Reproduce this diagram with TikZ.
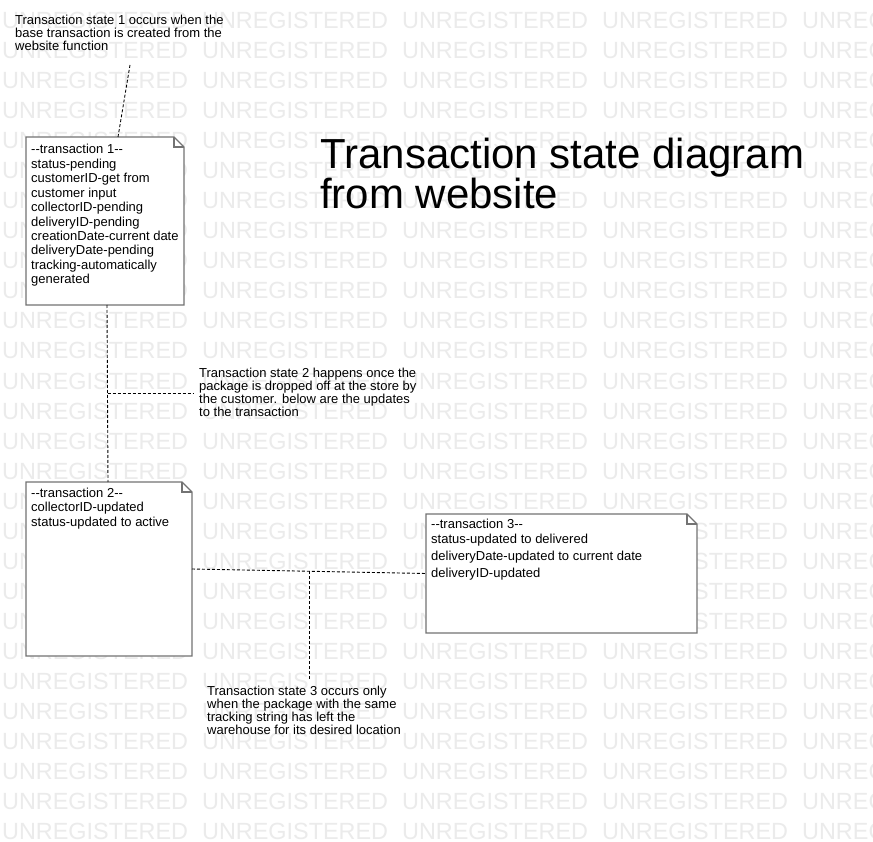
\documentclass[tikz,border=0pt]{standalone}
\usepackage{fontspec}
\newfontfamily\umlfont{Liberation Sans}
\usepackage{tikz}
\usetikzlibrary{positioning}
\usetikzlibrary{calc}
\tikzstyle{noteline} = [draw, color=black!55, line width=1.2pt, line join=miter]
\tikzstyle{dashline} = [draw, color=black, line width=0.9pt, dash pattern=on 3pt off 2pt]
\newcommand{\foldnote}[1]{%
	\path [noteline, fill=white] (#1.north west) -- ([xshift=-10pt]#1.north east) -- ([yshift=-10pt]#1.north east) -- (#1.south east) -- (#1.south west) -- cycle;
	\path [noteline] ([xshift=-10pt]#1.north east) -- ([xshift=-10pt,yshift=-10pt]#1.north east) -- ([yshift=-10pt]#1.north east);}

\begin{document}
\begin{tikzpicture}[x=1pt, y=-1pt,
	wmark/.style={anchor=base west, inner sep=0pt, text=black!8,
		font=\umlfont\fontsize{23.4}{23.4}\selectfont},
	notebox/.style={anchor=north west, inner sep=0pt, outer sep=0pt},
	notetext/.style={anchor=north west, inner sep=0pt, align=left,
		font=\umlfont\fontsize{13}{14.44}\selectfont},
	statetext/.style={anchor=north west, inner sep=0pt, align=left,
		font=\umlfont\fontsize{13}{13}\selectfont}]
	\useasboundingbox (0,0) rectangle (873,842);
	\fill [white] (0,0) rectangle (873,842);
	\clip (0,0) rectangle (873,842);
	%% watermark
	\foreach \r in {0,...,27}
		\foreach \c in {0,...,4}
			\node [wmark] (wm-\r-\c) at ({2+200*\c},{29+30*\r}) {UNREGISTERED};
	%% title
	\node [statetext, font=\umlfont\fontsize{42}{40}\selectfont] (title) at (320,138) {Transaction state diagram\\from website};
	%% notes
	\node [notebox, minimum width=158pt, minimum height=168pt] (n1) at (26,137) {};
	\foldnote{n1}
	\node [notetext] (t1) at ([shift={(5,7.3)}]n1.north west) {-{}-transaction 1-{}-\\status-pending\\customerID-get from\\customer input\\collectorID-pending\\deliveryID-pending\\creationDate-current date\\deliveryDate-pending\\tracking-automatically\\generated};
	\node [notebox, minimum width=166pt, minimum height=174pt] (n2) at (26,482) {};
	\foldnote{n2}
	\node [notetext, font=\umlfont\fontsize{13}{14.6}\selectfont] (t2) at ([shift={(5,5.7)}]n2.north west) {-{}-transaction 2-{}-\\collectorID-updated\\status-updated to active};
	\node [notebox, minimum width=271pt, minimum height=119pt] (n3) at (426,514) {};
	\foldnote{n3}
	\node [notetext, font=\umlfont\fontsize{13}{15.2}\selectfont] (t3) at ([shift={(5,4.7)}]n3.north west) {-{}-transaction 3-{}-\\status-updated to delivered\\[1.8pt]deliveryDate-updated to current date\\[1.8pt]deliveryID-updated};
	%% state texts
	\node [statetext] (s1) at (15,14.7) {Transaction state 1 occurs when the\\base transaction is created from the\\website function};
	\node [statetext] (s2) at (199,367.7) {Transaction state 2 happens once the\\package is dropped off at the store by\\the customer. below are the updates\\to the transaction};
	\node [statetext] (s3) at (207,685.7) {Transaction state 3 occurs only\\when the package with the same\\tracking string has left the\\warehouse for its desired location};
	%% links
	\coordinate (s1tip) at (130,65);
	\path [dashline] ([xshift=92pt]n1.north west) -- (s1tip);
	\path [dashline] ([xshift=2pt]n1.south) -- ([xshift=-1pt]n2.north);
	\coordinate (j1) at ($([xshift=2pt]n1.south)!0.5!([xshift=-1pt]n2.north)$);
	\path [dashline, shorten >=6pt] (j1) -- (j1 -| s2.west);
	\path [dashline] (n2.east) -- (n3.west);
	\coordinate (j2) at ($(n2.east)!0.5!(n3.west)$);
	\path [dashline, shorten >=6pt] (j2) -- (j2 |- s3.north);
\end{tikzpicture}
\end{document}
